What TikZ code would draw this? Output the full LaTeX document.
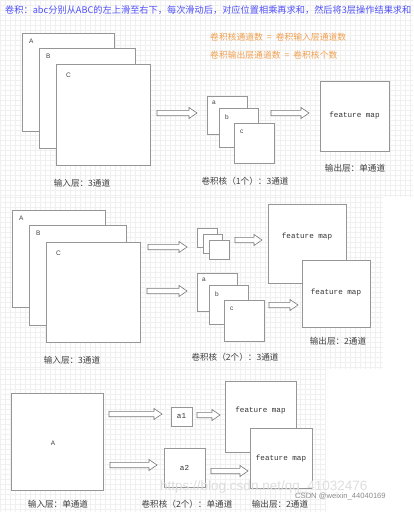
\documentclass[tikz,border=0pt]{standalone}
\usepackage{fontspec}
\setmainfont{Noto Sans CJK SC}
\setmonofont{Liberation Mono}
\newfontfamily\lsans{Liberation Sans}
\definecolor{titleblue}{RGB}{80,80,250}
\definecolor{noteorange}{RGB}{240,160,80}
\definecolor{boxgray}{RGB}{150,150,150}
\definecolor{arrgray}{RGB}{120,120,120}
\definecolor{gridc}{RGB}{240,240,240}
\tikzset{
  box/.style={draw=boxgray, line width=0.9pt, fill=white, inner sep=0pt, outer sep=0pt},
  harrow/.style={draw=arrgray, line width=0.6pt, fill=white},
  gridline/.style={draw=gridc, line width=0.5pt},
  lbl/.style={font=\fontsize{8.6}{9}\selectfont, text=black!75, inner sep=0pt},
  letter/.style={font=\lsans\fontsize{6.5}{7}\selectfont, text=black!75, inner sep=0pt, anchor=north west},
  fmtext/.style={font=\ttfamily\fontsize{7.6}{8}\selectfont, text=black!80, inner sep=0pt},
}
\newcommand{\bx}[5]{\node[box, anchor=north west, minimum width={(#4-#2)*1pt}, minimum height={(#5-#3)*1pt}] (#1) at (#2,#3) {};}
\newcommand{\harr}[3]{\draw[harrow] (#1,{#3-2.7}) -- ({#2-8},{#3-2.7}) -- ({#2-8},{#3-5.5}) -- (#2,#3) -- ({#2-8},{#3+5.5}) -- ({#2-8},{#3+2.7}) -- (#1,{#3+2.7}) -- cycle;}
\begin{document}
\begin{tikzpicture}[x=1pt,y=-1pt]
\useasboundingbox (0,0) rectangle (413,512);
\fill[white] (0,0) rectangle (413,512);
% grids
\foreach \i in {0,5,...,413} \draw[gridline] (\i,0) -- (\i,197);
\foreach \j in {0,5,...,197} \draw[gridline] (0,\j) -- (413,\j);
\foreach \i in {0,5,...,383} \draw[gridline] (\i,197) -- (\i,369);
\foreach \j in {197,202,...,369} \draw[gridline] (0,\j) -- (383,\j);
\foreach \i in {0,5,...,325} \draw[gridline] (\i,369) -- (\i,512);
\foreach \j in {369,374,...,512} \draw[gridline] (0,\j) -- (325,\j);

% ---------- section 1 ----------
\node[anchor=west, inner sep=0pt, text=titleblue, font=\fontsize{9.2}{10}\selectfont] (title) at (5,10) {卷积：abc分别从ABC的左上滑至右下，每次滑动后，对应位置相乘再求和，然后将3层操作结果求和};
\node[anchor=west, inner sep=0pt, text=noteorange, font=\fontsize{8.8}{9}\selectfont] (note1) at (210,37) {卷积核通道数\ \ =\ \ 卷积输入层通道数};
\node[anchor=west, inner sep=0pt, text=noteorange, font=\fontsize{8.8}{9}\selectfont] (note2) at (210,55) {卷积输出层通道数\ \ =\ \ 卷积核个数};

\bx{iA}{22}{33}{114}{131}
\node[letter] (lA) at ([shift={(7,6)}]iA.north west) {A};
\bx{iB}{39}{48}{135}{148}
\node[letter] (lB) at ([shift={(7,6)}]iB.north west) {B};
\bx{iC}{56}{64}{150}{165}
\node[letter] (lC) at ([shift={(10,9)}]iC.north west) {C};

\harr{157}{197}{113}

\bx{ka}{207}{96}{247}{134}
\node[letter] (la) at ([shift={(5,5)}]ka.north west) {a};
\bx{kb}{219}{108}{258}{147}
\node[letter] (lb) at ([shift={(6,7)}]kb.north west) {b};
\bx{kc}{234}{123}{274}{163}
\node[letter] (lc) at ([shift={(6,7)}]kc.north west) {c};

\harr{271}{309}{113}

\bx{fm}{320}{81}{389}{151}
\node[fmtext] at (fm.center) {feature map};

\node[lbl] (t1a) at (82,183) {输入层：3通道};
\node[lbl] (t1b) at (245,181) {卷积核（1个）：3通道};
\node[lbl] (t1c) at (355,168) {输出层：单通道};

% ---------- section 2 ----------
\bx{jA}{12}{210}{105}{307}
\node[letter] at ([shift={(7,6)}]jA.north west) {A};
\bx{jB}{29}{225}{126}{325}
\node[letter] at ([shift={(7,6)}]jB.north west) {B};
\bx{jC}{46}{242}{140}{342}
\node[letter] at ([shift={(10,9)}]jC.north west) {C};

\harr{148}{187}{247}
\harr{147}{187}{291}

\bx{s1}{197}{228}{217}{247}
\bx{s2}{203}{234}{222}{253}
\bx{s3}{209}{240}{229}{259}

\harr{235}{262}{240}

\bx{ma}{197}{273}{237}{311}
\node[letter] at ([shift={(5,5)}]ma.north west) {a};
\bx{mb}{209}{285}{248}{324}
\node[letter] at ([shift={(6,7)}]mb.north west) {b};
\bx{mc}{224}{300}{264}{341}
\node[letter] at ([shift={(6,7)}]mc.north west) {c};

\harr{269}{298}{305}

\bx{fm2a}{268}{204}{346}{283}
\node[fmtext] at (307,237) {feature map};
\bx{fm2b}{302}{260}{370}{327}
\node[fmtext] at (336,293) {feature map};

\node[lbl] (t2a) at (72,360) {输入层：3通道};
\node[lbl] (t2b) at (235,357) {卷积核（2个）：3通道};
\node[lbl] (t2c) at (338,341) {输出层：2通道};

% ---------- section 3 ----------
\bx{kA}{11}{393}{103}{490}
\node[font=\lsans\fontsize{6.5}{7}\selectfont, text=black!75, inner sep=0pt] at (53,443) {A};

\harr{109}{162}{414}
\harr{110}{157}{465}

\bx{a1}{171}{407}{192}{426}
\node[fmtext] at (a1.center) {a1};
\harr{197}{220}{415}

\bx{a2}{164}{448}{205}{487}
\node[fmtext] at (a2.center) {a2};
\harr{211}{248}{471}

\bx{fm3a}{225}{381}{296}{452}
\node[fmtext] at (260.5,411) {feature map};
\bx{fm3b}{250}{428}{312}{488}
\node[fmtext] at (281,459) {feature map};

\node[lbl] (t3a) at (58,504) {输入层：单通道};
\node[lbl] (t3b) at (187,504) {卷积核（2个）：单通道};
\node[lbl] (t3c) at (280,504) {输出层：2通道};

% watermarks
\node[anchor=west, inner sep=0pt, text=black!13, font=\lsans\fontsize{13.5}{14}\selectfont] (wm1) at (160,487) {https://blog.csdn.net/qq\_41032476};
\node[anchor=west, inner sep=0pt, text=black!45, font=\lsans\fontsize{7.6}{8}\selectfont] (wm2) at (295,496) {CSDN @weixin\_44040169};
\end{tikzpicture}
\end{document}
